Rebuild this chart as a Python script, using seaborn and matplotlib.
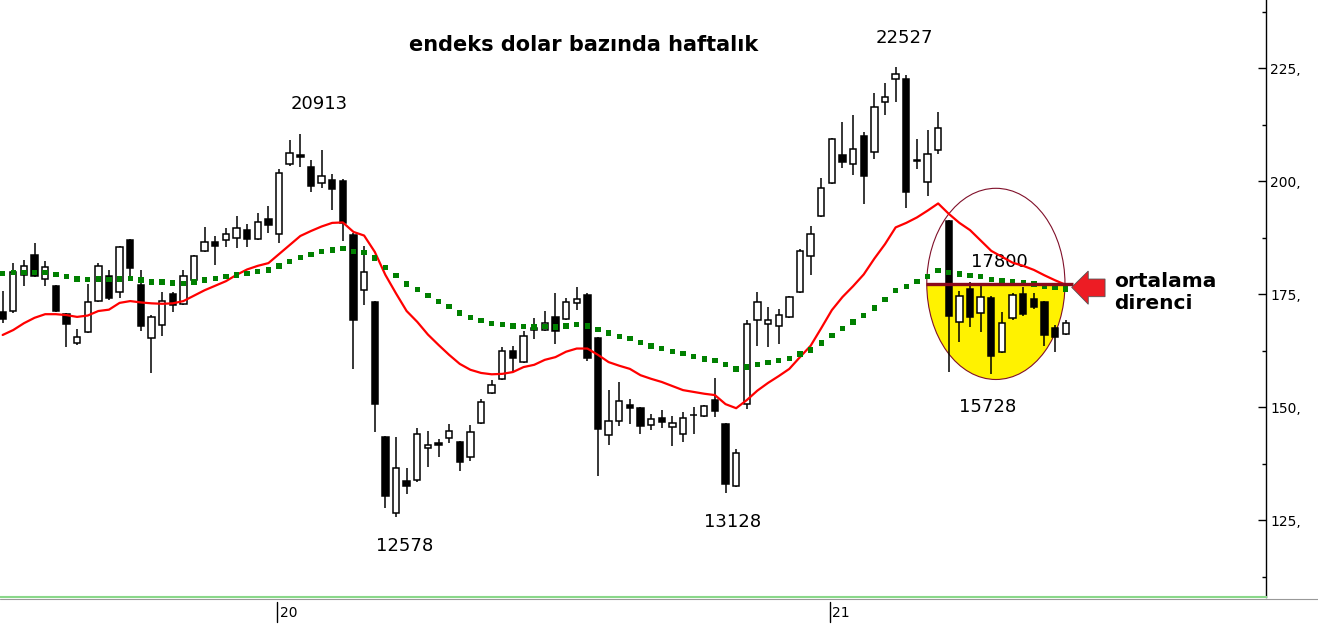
import numpy as np
import pandas as pd
import matplotlib.pyplot as plt
import matplotlib.patches as mpatches
import matplotlib.transforms as mtrans
from matplotlib.lines import Line2D
from matplotlib.ticker import FixedLocator, FuncFormatter
import seaborn as sns

# haftalik mumlar, endeks dolar bazinda (/100)
opens = [171.1, 171.3, 179.3, 183.7, 178.4, 176.8, 170.6, 164.2, 166.7, 173.5,
         179.0, 175.5, 187.0, 177.1, 165.3, 168.2, 175.1, 172.9, 178.2, 184.6,
         186.6, 187.0, 187.5, 189.2, 187.2, 191.7, 188.3, 203.8, 205.8, 203.2,
         199.6, 200.3, 200.1, 188.1, 176.0, 173.3, 143.4, 126.6, 133.7, 133.9,
         141.0, 142.1, 143.2, 142.3, 139.0, 146.5, 153.2, 156.3, 162.5, 160.0,
         167.5, 167.1, 170.0, 169.5, 173.1, 174.8, 165.3, 143.9, 147.0, 150.5,
         149.8, 146.1, 147.6, 145.6, 144.1, 148.3, 148.1, 151.6, 146.3, 132.6,
         150.7, 169.3, 168.4, 168.0, 170.0, 175.5, 183.5, 192.3, 199.6, 205.8,
         203.8, 210.0, 206.5, 217.5, 222.6, 222.6, 204.7, 199.8, 206.9, 191.2,
         168.9, 176.2, 170.9, 174.2, 162.2, 169.8, 175.1, 174.0, 173.3, 167.5,
         166.2]
highs = [175.7, 181.9, 182.6, 186.3, 182.4, 177.1, 170.9, 167.3, 177.3, 181.9,
         180.4, 185.7, 187.2, 180.4, 170.4, 175.5, 175.5, 180.4, 183.7, 189.9,
         187.9, 189.7, 192.3, 190.5, 193.0, 194.5, 202.7, 209.1, 210.5, 204.7,
         206.9, 201.6, 200.5, 188.6, 185.7, 173.5, 143.7, 143.4, 136.6, 145.4,
         144.8, 143.0, 146.3, 142.5, 146.1, 151.8, 156.0, 163.3, 163.6, 166.9,
         169.8, 171.3, 175.3, 174.2, 176.6, 175.3, 165.5, 153.8, 155.6, 151.8,
         150.1, 148.5, 149.4, 148.1, 149.0, 150.1, 150.5, 156.5, 146.5, 140.8,
         169.3, 175.5, 172.2, 171.8, 174.6, 185.0, 190.1, 200.7, 209.6, 213.1,
         214.7, 210.9, 219.5, 221.7, 225.3, 223.5, 209.4, 211.4, 215.3, 191.4,
         175.7, 177.7, 176.8, 174.6, 171.1, 175.3, 176.6, 175.3, 173.5, 168.2,
         169.3]
lows = [168.6, 170.9, 176.8, 178.8, 176.8, 171.1, 163.3, 163.8, 166.4, 173.3,
        173.7, 174.2, 179.0, 166.9, 157.6, 165.8, 171.1, 172.6, 177.9, 184.4,
        181.5, 185.5, 185.2, 185.5, 187.0, 188.6, 186.3, 203.4, 203.2, 197.6,
        198.5, 193.6, 186.8, 158.5, 172.6, 144.5, 127.7, 125.8, 130.8, 133.5,
        136.8, 139.0, 142.1, 135.9, 138.1, 146.3, 153.0, 156.0, 157.8, 159.8,
        165.1, 166.9, 164.0, 169.3, 171.5, 160.2, 134.8, 141.7, 145.9, 146.3,
        144.1, 145.0, 145.4, 141.4, 142.3, 144.1, 147.9, 147.9, 131.0, 132.4,
        149.6, 163.6, 163.3, 164.0, 169.8, 175.3, 179.3, 192.1, 199.4, 203.0,
        201.4, 195.0, 204.9, 214.7, 217.5, 194.1, 202.7, 196.7, 206.0, 157.8,
        164.5, 167.8, 166.7, 157.4, 162.0, 169.3, 170.2, 171.8, 163.6, 162.2,
        166.0]
closes = [169.5, 179.9, 181.3, 179.0, 181.0, 171.3, 168.4, 165.5, 173.3, 181.3,
          174.2, 185.5, 180.8, 168.0, 170.0, 173.5, 172.6, 179.0, 183.5, 186.6,
          185.7, 188.3, 189.7, 187.2, 191.0, 190.3, 201.8, 206.3, 205.4, 199.0,
          201.2, 198.3, 190.8, 169.3, 179.9, 150.7, 130.4, 136.6, 132.6, 144.1,
          141.7, 141.7, 144.8, 137.9, 144.5, 151.2, 154.9, 162.5, 160.9, 165.8,
          167.1, 168.6, 166.9, 173.3, 174.0, 160.9, 145.2, 147.0, 151.4, 149.8,
          145.9, 147.4, 146.8, 146.5, 147.6, 148.2, 150.3, 149.2, 133.0, 139.9,
          168.4, 173.3, 169.3, 170.4, 174.4, 184.6, 188.3, 198.5, 209.4, 204.3,
          207.1, 201.2, 216.4, 218.7, 223.7, 197.6, 204.5, 206.0, 211.8, 170.2,
          174.6, 170.0, 174.4, 161.4, 168.6, 174.8, 170.6, 172.2, 166.0, 165.5,
          168.6]
# kisa ortalama (kirmizi) ve uzun ortalama (yesil noktali)
ma_short = [166.0, 167.1, 168.6, 169.8, 170.6, 170.6, 170.4, 170.0, 170.3, 171.3,
            171.6, 173.1, 173.5, 173.2, 173.0, 172.9, 173.0, 173.5, 174.7, 175.9,
            176.9, 177.9, 179.3, 180.5, 181.3, 181.9, 183.9, 185.9, 187.9, 189.0,
            190.0, 190.8, 190.9, 188.8, 188.0, 184.4, 179.3, 175.2, 171.3, 168.9,
            166.1, 163.8, 161.6, 159.6, 158.3, 157.6, 157.3, 157.4, 157.8, 158.9,
            159.4, 160.5, 161.1, 162.3, 163.0, 163.0, 161.6, 160.0, 159.2, 158.5,
            157.1, 156.3, 155.6, 154.7, 153.8, 153.4, 153.0, 152.7, 150.7, 149.8,
            151.6, 153.7, 155.4, 156.9, 158.5, 161.1, 163.6, 167.5, 171.5, 174.4,
            176.8, 179.4, 182.9, 186.1, 189.8, 190.8, 192.0, 193.5, 195.1, 192.8,
            190.8, 189.2, 186.9, 184.6, 183.3, 182.0, 181.3, 180.4, 179.2, 178.1,
            177.1]
ma_long = [179.6, 179.8, 179.8, 179.8, 179.8, 179.4, 179.0, 178.4, 178.3, 178.4,
           178.3, 178.4, 178.5, 178.2, 177.7, 177.7, 177.5, 177.4, 177.7, 178.2,
           178.5, 178.9, 179.3, 179.6, 180.0, 180.4, 181.3, 182.2, 183.1, 183.8,
           184.4, 184.8, 185.1, 184.5, 184.3, 183.0, 180.9, 179.2, 177.3, 176.0,
           174.7, 173.4, 172.3, 170.9, 169.8, 169.2, 168.5, 168.3, 168.0, 167.9,
           167.8, 167.9, 167.8, 168.0, 168.3, 168.0, 167.2, 166.4, 165.7, 165.2,
           164.3, 163.6, 163.0, 162.4, 161.9, 161.2, 160.7, 160.3, 159.4, 158.5,
           158.9, 159.4, 159.9, 160.3, 160.8, 161.8, 162.7, 164.2, 165.9, 167.4,
           168.9, 170.3, 172.0, 173.9, 175.8, 176.7, 177.8, 178.9, 180.2, 179.8,
           179.5, 179.2, 179.0, 178.3, 178.0, 177.8, 177.6, 177.3, 176.8, 176.5,
           176.2]

year_ticks = [26, 78]
year_labels = ['20', '21']
y_major = [125, 150, 175, 200, 225]
y_minor = [112.5, 137.5, 162.5, 187.5, 212.5, 237.5]

# tepe / dip etiketleri
point_labels = ['20913', '22527', '12578', '13128', '15728', '17800']
point_x = [29.8, 84.8, 37.8, 68.7, 92.7, 93.8]
point_y = [217.2, 231.7, 119.4, 124.7, 150.0, 182.1]

resistance = 177.3

df = pd.DataFrame({'open': opens, 'high': highs, 'low': lows, 'close': closes,
                   'ma_short': ma_short, 'ma_long': ma_long})
df['week'] = np.arange(len(df))
df['body_lo'] = df[['open', 'close']].min(axis=1)
df['body_h'] = (df['close'] - df['open']).abs().clip(lower=0.12)
df['fill'] = np.where(df['close'] >= df['open'], 'white', 'black')

sns.set_style('white')
plt.rcParams['font.family'] = ['DejaVu Sans']
plt.rcParams['text.color'] = 'black'
plt.rcParams['ytick.color'] = 'black'

fig = plt.figure(figsize=(13.18, 6.24), dpi=100)
ax = fig.add_axes([0, 1 - 597 / 624, 1266 / 1318, 597 / 624])

# sari yarim elips + cerceve
ell_fill = mpatches.Ellipse((93.43, resistance), 13.0, 42.3, facecolor='#FFF200',
                            edgecolor='none', zorder=1)
ax.add_patch(ell_fill)
clip = mpatches.Rectangle((80, 100), 30, resistance - 100, transform=ax.transData)
ell_fill.set_clip_path(clip)
ax.add_patch(mpatches.Ellipse((93.43, resistance), 13.0, 42.3, facecolor='none',
                              edgecolor='#80102A', lw=0.8, zorder=2))

# mumlar
ax.vlines(df['week'], df['low'], df['high'], color='black', lw=1.1, zorder=3)
ax.bar(df['week'], df['body_h'], bottom=df['body_lo'], width=0.6,
       color=df['fill'], edgecolor='black', lw=1.1, zorder=4)

sns.lineplot(x=df['week'], y=df['ma_short'], color='#FF0000', lw=1.6, ax=ax, zorder=5)
sns.scatterplot(x=df['week'], y=df['ma_long'], marker='s', s=15, color='#008000',
                edgecolor='none', linewidth=0, ax=ax, zorder=5)

ax.hlines(resistance, 86.9, 100.7, color='#8B0A1A', lw=2.4, zorder=6)

arrow = mpatches.Polygon([(100.56, 176.55), (102.12, 180.15), (102.12, 178.38),
                          (103.7, 178.38), (103.7, 174.47), (102.12, 174.47),
                          (102.12, 172.79)], closed=True, facecolor='#ED1C24',
                         edgecolor='#555555', lw=0.6, zorder=6)
ax.add_patch(arrow)
ax.text(104.6, 175.3, 'ortalama\ndirenci', fontsize=14.5, fontweight='bold',
        color='black', ha='left', va='center', linespacing=1.2)

for txt, x, y in zip(point_labels, point_x, point_y):
    ax.text(x, y, txt, fontsize=13, color='black', ha='center', va='center')

ax.text(0.461, 0.924, 'endeks dolar bazında haftalık', transform=ax.transAxes,
        fontsize=15, fontweight='bold', color='black', ha='center', va='center')

ax.set_xlim(-0.25, 118.84)
ax.set_ylim(108.03, 240.11)
ax.set_xlabel('')
ax.set_ylabel('')

ax.yaxis.tick_right()
ax.yaxis.set_major_locator(FixedLocator(y_major))
ax.yaxis.set_minor_locator(FixedLocator(y_minor))
ax.yaxis.set_major_formatter(FuncFormatter(lambda v, _: f'{v:.0f},'))
ax.tick_params(axis='y', which='major', direction='in', length=5.5, width=1,
               labelsize=10, pad=3, colors='black')
ax.tick_params(axis='y', which='minor', direction='in', length=3, width=1,
               colors='black')
ax.set_xticks([])

for loc in ['top', 'left']:
    ax.spines[loc].set_visible(False)
ax.spines['right'].set_color('black')
ax.spines['right'].set_linewidth(1)
ax.spines['bottom'].set_color('#8AD88A')
ax.spines['bottom'].set_linewidth(1.5)
fig.add_artist(Line2D([0, 1], [1 - 599 / 624] * 2, color='#999999', lw=0.8))

# yil isaretleri
trans = mtrans.blended_transform_factory(ax.transData, ax.transAxes)
for pos, lab in zip(year_ticks, year_labels):
    ax.plot([pos - 0.2, pos - 0.2], [-0.008, -0.042], transform=trans, color='black',
            lw=1, clip_on=False)
    ax.text(pos + 0.05, -0.026, lab, transform=trans, fontsize=10, color='black',
            ha='left', va='center', clip_on=False)

fig.savefig('out.png', dpi=100, facecolor='white')
